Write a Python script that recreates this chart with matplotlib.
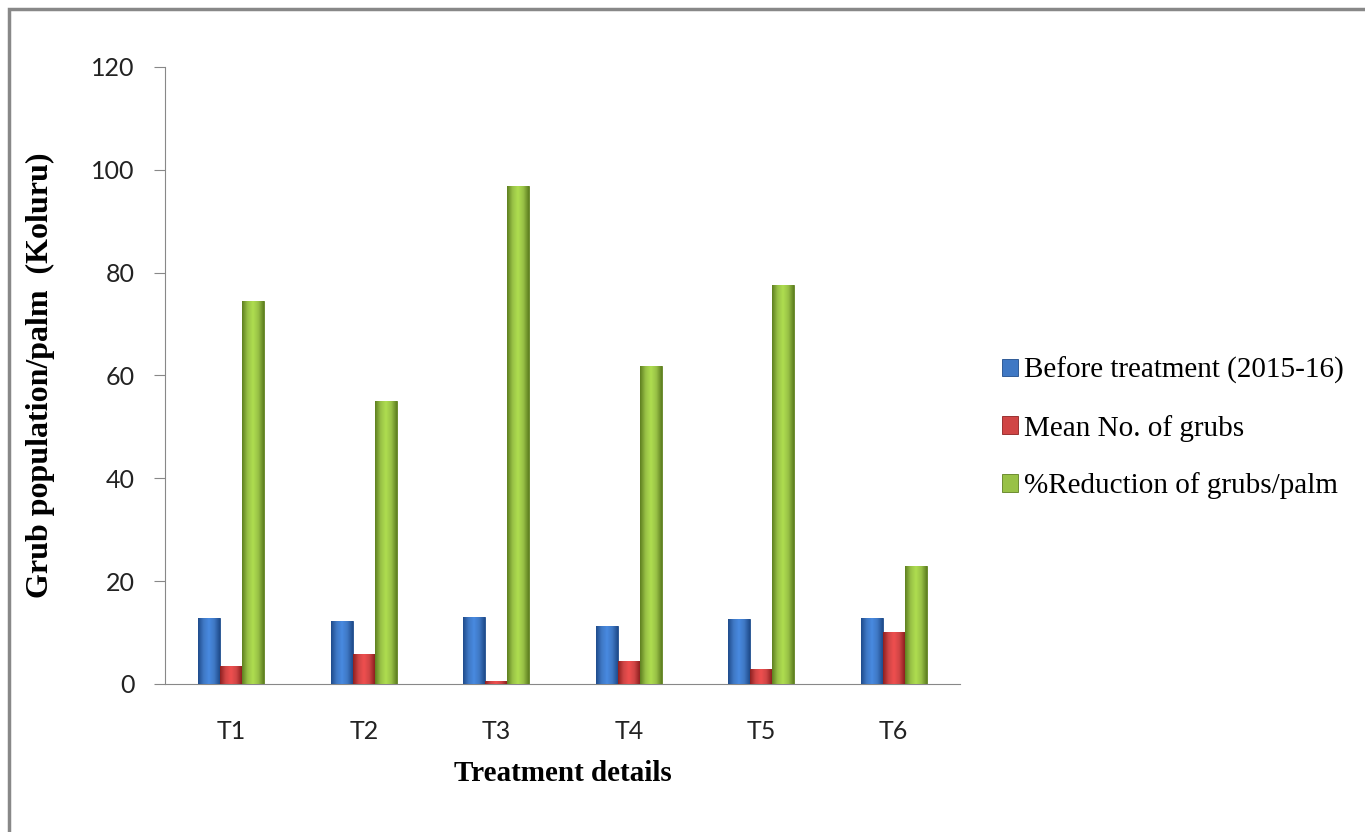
import matplotlib.pyplot as plt
import matplotlib.colors as mcolors
from matplotlib.patches import Rectangle
import numpy as np

treatments = ['T1', 'T2', 'T3', 'T4', 'T5', 'T6']
before = [12.8, 12.3, 13.0, 11.3, 12.6, 12.8]
mean_grubs = [3.5, 5.8, 0.5, 4.5, 2.9, 10.1]
reduction = [74.5, 55.0, 96.8, 61.9, 77.6, 22.9]

series = [
    (before, 'Before treatment (2015-16)', '#3f78c4', '#1f4c8c'),
    (mean_grubs, 'Mean No. of grubs', '#d04545', '#8e2020'),
    (reduction, '%Reduction of grubs/palm', '#98c146', '#5f8020'),
]

fig = plt.figure(figsize=(13.65, 8.32), dpi=100)
ax = fig.add_axes([0.1209, 0.1779, 0.5824, 0.7416])

x = np.arange(len(treatments))
w = 0.166
for k, (vals, label, col, dark) in enumerate(series):
    bars = ax.bar(x + (k - 1) * w, vals, w, color=col, label=label,
                  edgecolor=dark, linewidth=0.6, zorder=2)
    cmap = mcolors.LinearSegmentedColormap.from_list(
        'g', [dark, col, mcolors.to_hex(np.clip(np.array(mcolors.to_rgb(col)) * 1.15, 0, 1)), col, dark])
    grad = np.linspace(0, 1, 64).reshape(1, -1)
    for b in bars:
        x0, y0 = b.get_x(), b.get_y()
        im = ax.imshow(grad, extent=[x0, x0 + b.get_width(), y0, y0 + b.get_height()],
                       cmap=cmap, aspect='auto', zorder=3)
        im.set_clip_path(b)

ax.set_xlim(-0.5, 5.5)
ax.set_ylim(0, 120)
ax.set_yticks(range(0, 121, 20))
ax.set_xticks(x)
ax.set_xticklabels(treatments)
for s in ['top', 'right']:
    ax.spines[s].set_visible(False)
ax.spines['left'].set_color('#888888')
ax.spines['bottom'].set_color('#888888')
ax.tick_params(axis='y', direction='out', length=8, color='#888888', labelsize=18, pad=14)
ax.tick_params(axis='x', length=0, labelsize=18, pad=26)
for t in ax.get_xticklabels() + ax.get_yticklabels():
    t.set_family('Lato')
    t.set_color('#222222')

ax.set_xlabel('Treatment details', family='Liberation Serif', fontweight='bold', fontsize=21, labelpad=12)
ax.set_ylabel('Grub population/palm  (Koluru)', family='Liberation Serif', fontweight='bold', fontsize=23, labelpad=26)

ax.legend(loc='center left', bbox_to_anchor=(1.02, 0.415), frameon=False,
          prop={'family': 'Liberation Serif', 'size': 21}, handlelength=0.55, handleheight=0.55,
          handletextpad=0.2, labelspacing=1.05)

fig.patches.append(Rectangle((9 / 1365, -0.1), 1.2, 1 - 9 / 832 + 0.1, transform=fig.transFigure,
                             fill=False, edgecolor='#888888', linewidth=2.5))

fig.savefig('out.png', dpi=100)
